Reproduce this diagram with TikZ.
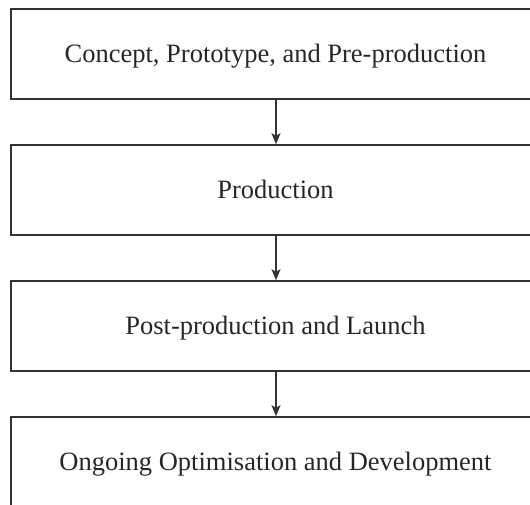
\documentclass[tikz,border=0pt]{standalone}
\usepackage{fontspec}
\setmainfont{Liberation Serif}
\usetikzlibrary{arrows.meta}
\begin{document}
\begin{tikzpicture}[x=1pt,y=-1pt,
  stage/.style={draw=black!80,line width=1.5pt,rectangle,
    minimum width=529pt,minimum height=90pt,inner sep=0pt,
    text height=17.5pt,text depth=0pt,
    font=\fontsize{26.5}{30}\selectfont,text=black!85},
  flow/.style={draw=black!80,line width=1.2pt,
    -{Stealth[length=11pt,width=9pt,inset=2.5pt]}}]
\useasboundingbox (0,0) rectangle (530,505);
\clip (0,0) rectangle (530,505);
\node[stage] (s1) at (275.5,54)  {Concept, Prototype, and Pre-production};
\node[stage] (s2) at (275.5,190) {Production};
\node[stage] (s3) at (275.5,326) {Post-production and Launch};
\node[stage] (s4) at (275.5,462) {Ongoing Optimisation and Development};
\draw[flow] (s1.south -| 276,0) -- (s2.north -| 276,0);
\draw[flow] (s2.south -| 276,0) -- (s3.north -| 276,0);
\draw[flow] (s3.south -| 276,0) -- (s4.north -| 276,0);
\end{tikzpicture}
\end{document}
